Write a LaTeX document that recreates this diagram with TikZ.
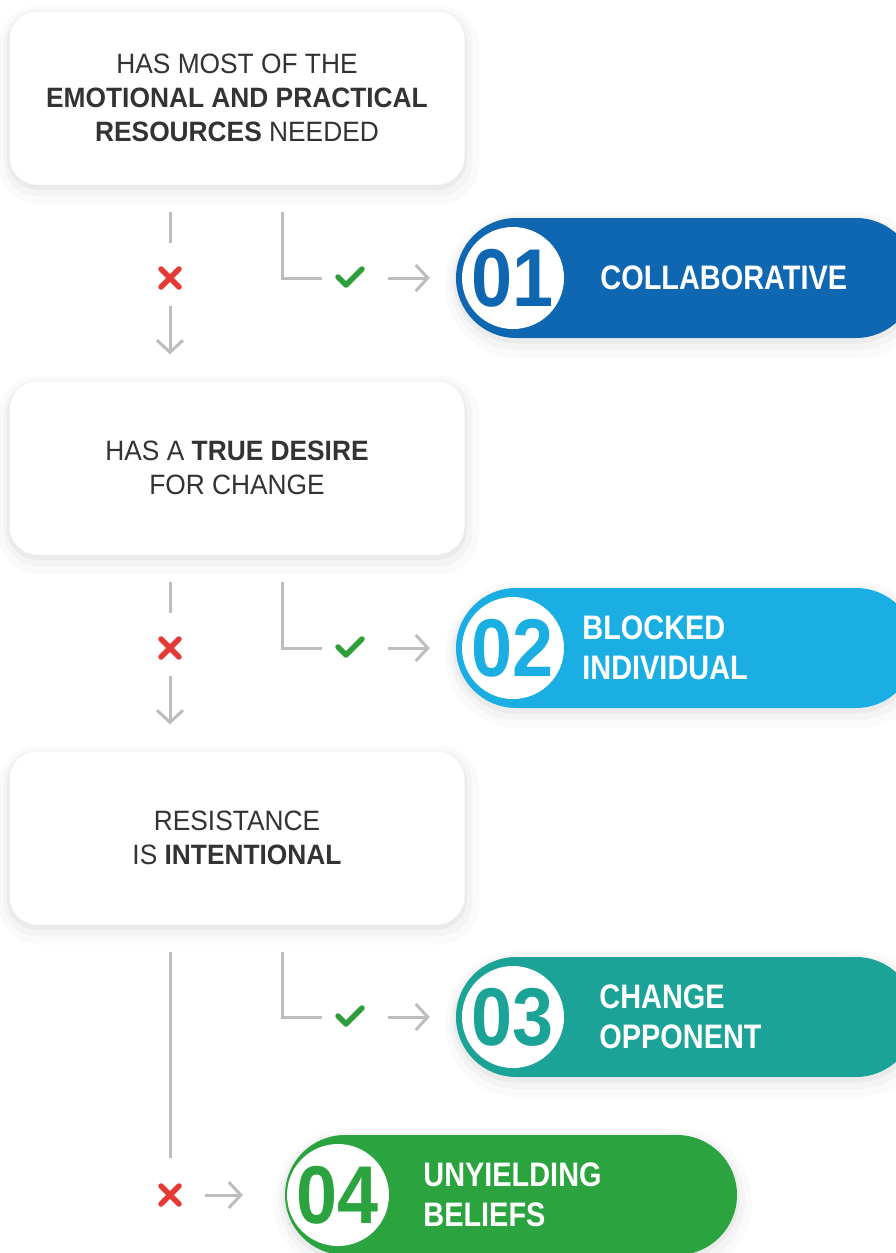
\documentclass[tikz,border=0pt]{standalone}
\usepackage{fontspec}
\setmainfont{Liberation Sans}[FakeStretch=0.94]
\newfontfamily\pillfont{Liberation Sans}[FakeStretch=0.85]
\newfontfamily\numfont{Liberation Sans}[FakeStretch=0.9]
\usetikzlibrary{arrows.meta, positioning}

\definecolor{textgrey}{HTML}{333333}
\definecolor{linegrey}{HTML}{BDBDBD}
\definecolor{crossred}{HTML}{E53935}
\definecolor{tickgreen}{HTML}{2E9E3A}
\definecolor{oneblue}{HTML}{0F67B1}
\definecolor{twoblue}{HTML}{1BAEE3}
\definecolor{threeteal}{HTML}{1AA396}
\definecolor{fourgreen}{HTML}{2BA33F}

\begin{document}
\begin{tikzpicture}[
            x = 1pt, y = -1pt, % pixel grid, y going down
            > = {Straight Barb[length=12pt, width=26pt]}, % arrow head style
            line/.style = {draw=linegrey, line width=3pt}, % connector style
            halo/.style = {
                preaction = {draw=black, draw opacity=0.02, line width=26pt, transform canvas={xshift=2pt, yshift=-7pt}},
                preaction = {draw=black, draw opacity=0.025, line width=14pt, transform canvas={xshift=1pt, yshift=-5pt}},
                preaction = {draw=black, draw opacity=0.035, line width=5pt, transform canvas={yshift=-3pt}}
            }
        ]

        \tikzstyle{question}=[
            rounded corners = 28pt,
            fill = white,
            halo,
            minimum width = 455pt,
            minimum height = 173pt,
            align = center,
            text = textgrey,
            font = \fontsize{28}{34}\selectfont
        ]
        \tikzstyle{pill}=[rounded corners = 60pt, minimum height = 120pt, halo]
        \tikzstyle{num}=[
            circle, fill = white, minimum size = 102pt, inner sep = 0pt,
            font = \numfont\bfseries\fontsize{82}{82}\selectfont
        ]
        \tikzstyle{tag}=[
            inner sep = 0pt, align = left, text = white,
            font = \pillfont\bfseries\fontsize{34}{40}\selectfont
        ]
        \tikzstyle{nomark}=[
            minimum size = 56pt, inner sep = 0pt,
            path picture = {
                \draw[crossred, line width=5.5pt, line cap=round]
                    ([shift={(-9pt,-9pt)}]path picture bounding box.center) -- ++(18pt,18pt)
                    ([shift={(-9pt,9pt)}]path picture bounding box.center) -- ++(18pt,-18pt);
            }
        ]
        \tikzstyle{yesmark}=[
            minimum size = 56pt, inner sep = 0pt,
            path picture = {
                \draw[tickgreen, line width=5.5pt, line cap=round, line join=round]
                    ([shift={(-12pt,1pt)}]path picture bounding box.center)
                    -- ++(8pt,-8pt) -- ++(16pt,16pt);
            }
        ]

        \fill[white] (0,0) rectangle (896,1253);
        \clip (0,0) rectangle (896,1253);

        % questions
        \node[question] (q1) at (237,98) {HAS MOST OF THE\\ \textbf{EMOTIONAL AND PRACTICAL}\\ \textbf{RESOURCES} NEEDED};
        \node[question] (q2) at (237,468) {HAS A \textbf{TRUE DESIRE}\\ FOR CHANGE};
        \node[question] (q3) at (237,838) {RESISTANCE\\ IS \textbf{INTENTIONAL}};

        % outcomes
        \node[pill, fill=oneblue, minimum width=460pt] (r1) at (686,278) {};
        \node[num, text=oneblue] (n1) at (513,278) {01};
        \node[tag] (t1) [right=36pt of n1] {COLLABORATIVE};

        \node[pill, fill=twoblue, minimum width=460pt] (r2) at (686,648) {};
        \node[num, text=twoblue] (n2) at (513,648) {02};
        \node[tag] (t2) [right=18pt of n2] {BLOCKED\\INDIVIDUAL};

        \node[pill, fill=threeteal, minimum width=460pt] (r3) at (686,1017) {};
        \node[num, text=threeteal] (n3) at (513,1017) {03};
        \node[tag] (t3) [right=35pt of n3] {CHANGE\\OPPONENT};

        \node[pill, fill=fourgreen, minimum width=452pt] (r4) at (511,1195) {};
        \node[num, text=fourgreen] (n4) at (338,1195) {04};
        \node[tag] (t4) [right=34pt of n4] {UNYIELDING\\BELIEFS};

        % yes / no marks
        \node[nomark] (no1) at (170,278) {};
        \node[yesmark] (yes1) at (350,278) {};
        \node[nomark] (no2) at (170,648) {};
        \node[yesmark] (yes2) at (350,648) {};
        \node[yesmark] (yes3) at (350,1017) {};
        \node[nomark] (no3) at (170,1195) {};

        \coordinate (l1) at (282,212);
        \coordinate (l2) at (282,582);
        \coordinate (l3) at (282,952);

        % no branches
        \draw[line, shorten >=7pt] ([yshift=-27pt]q1.south -| no1) -- (no1.north);
        \draw[line, ->, shorten >=27pt] (no1.south) -- (q2.north -| no1);
        \draw[line, shorten >=7pt] ([yshift=-27pt]q2.south -| no2) -- (no2.north);
        \draw[line, ->, shorten >=27pt] (no2.south) -- (q3.north -| no2);
        \draw[line, shorten >=9pt] ([yshift=-27pt]q3.south -| no3) -- (no3.north);
        \draw[line, ->, shorten <=7pt, shorten >=42pt] (no3.east) -- (r4.west);

        % yes branches
        \draw[line] (l1) |- (yes1.west);
        \draw[line, ->, shorten <=10pt, shorten >=26pt] (yes1.east) -- (r1.west);
        \draw[line] (l2) |- (yes2.west);
        \draw[line, ->, shorten <=10pt, shorten >=26pt] (yes2.east) -- (r2.west);
        \draw[line] (l3) |- (yes3.west);
        \draw[line, ->, shorten <=10pt, shorten >=26pt] (yes3.east) -- (r3.west);

  \end{tikzpicture}
\end{document}
